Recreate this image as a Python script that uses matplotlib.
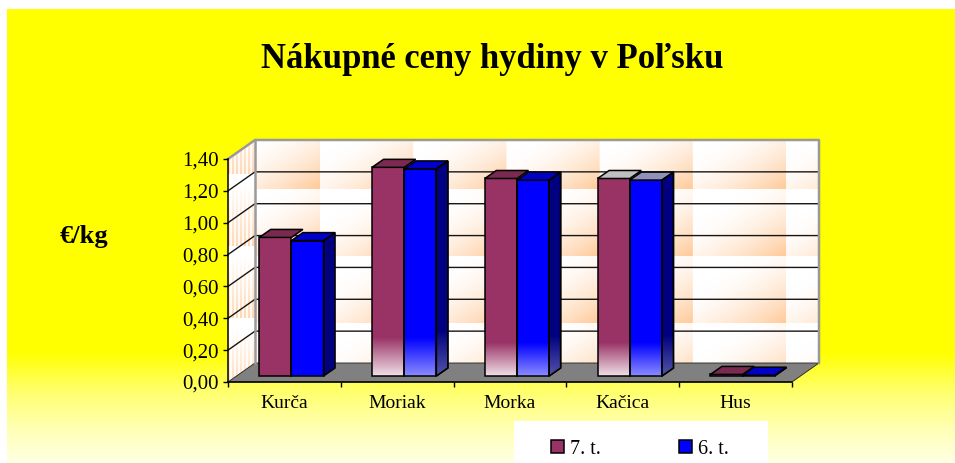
import numpy as np
import matplotlib
matplotlib.use("Agg")
import matplotlib.pyplot as plt
from matplotlib.patches import Polygon, Rectangle
from matplotlib.transforms import Affine2D, IdentityTransform

CATEGORIES = ["Kurča", "Moriak", "Morka", "Kačica", "Hus"]
SERIES_7T = [0.87, 1.31, 1.24, 1.24, 0.01]
SERIES_6T = [0.85, 1.30, 1.23, 1.23, 0.005]
Y_TICKS = [0.0, 0.2, 0.4, 0.6, 0.8, 1.0, 1.2, 1.4]
Y_LABELS = ["0,00", "0,20", "0,40", "0,60", "0,80", "1,00", "1,20", "1,40"]
FADE_TOP = [0.0, 0.24, 0.21, 0.21, 0.0]

W, H = 955, 463
DPI = 100
PURPLE = "#993366"
BLUE = "#0000ff"
PEACH = np.array([255, 200, 150]) / 255
WALL_DX, WALL_DY = 27, 19
BAR_DX, BAR_DY = 7, 6
DEPTH_DX, DEPTH_DY = 11.5, 8
BAR_W = 0.285
plt.rcParams["font.family"] = ["Liberation Serif", "DejaVu Serif"]

fig = plt.figure(figsize=(W / DPI, H / DPI), dpi=DPI, facecolor="white")

# background layer, in pixels
bg = fig.add_axes([0, 0, 1, 1])
bg.set_axis_off()

ys = np.arange(9, H)
alpha = np.interp(ys, [0, 352, 390, 430, 463], [0, 0, 0.42, 0.72, 0.9])
grad = np.ones((len(ys), 1, 3))
grad[:, 0, 2] = alpha
bg.imshow(grad, extent=(7, W, H, 9), aspect="auto", zorder=0)


def wall_texture():
    xx, yy = np.meshgrid(np.arange(255, 819), np.arange(140, 363))
    u = ((xx - 227) % 93) / 93
    v = ((yy - 122) % 67) / 67
    t = np.clip((0.7 * u + 0.8 * v - 0.4) / 1.1, 0, 1) ** 1.7
    return 1 - t[..., None] * (1 - PEACH)


def side_texture():
    xx, yy = np.meshgrid(np.arange(228, 255), np.arange(140, 382))
    v = ((yy - 102) % 72) / 72
    stripes = ((xx % 4) < 2) * 0.7 + 0.15
    t = np.clip(v - 0.15, 0, 1) * stripes
    return 1 - t[..., None] * (1 - PEACH)


bg.imshow(wall_texture(), extent=(255, 819, 363, 140), aspect="auto", zorder=1)
side_im = bg.imshow(side_texture(), extent=(228, 255, 382, 140), aspect="auto", zorder=1)
side_im.set_clip_path(Polygon([(228, 159), (255, 140), (255, 363), (228, 382)], transform=bg.transData))
bg.add_patch(Rectangle((514, 421), 254, 42, facecolor="white", edgecolor="none", zorder=1))
bg.set_xlim(0, W)
bg.set_ylim(H, 0)

# front plane of the chart
ax = fig.add_axes([228 / W, (H - 382) / H, 564 / W, 223 / H])
ax.patch.set_alpha(0)
ax.set_xlim(0, 5)
ax.set_ylim(0, 1.4)
for name in ["top", "right"]:
    ax.spines[name].set_visible(False)
for name in ["left", "bottom"]:
    ax.spines[name].set_linewidth(1.1)


def pt(x, v, dx=0, dy=0):
    px, py = ax.transData.transform((x, v))
    return (px + dx, py + dy)


def poly(points, **kw):
    p = Polygon(points, transform=IdentityTransform(), clip_on=False, **kw)
    ax.add_patch(p)
    return p


poly([pt(0, 0), pt(5, 0), pt(5, 0, WALL_DX, WALL_DY), pt(0, 0, WALL_DX, WALL_DY)],
     facecolor="#808080", edgecolor="#202020", linewidth=0.6, zorder=1)

# gridlines on both walls
for v in Y_TICKS[1:-1]:
    a, b, c = pt(0, v), pt(0, v, WALL_DX, WALL_DY), pt(5, v, WALL_DX, WALL_DY)
    ax.plot([a[0], b[0], c[0]], [a[1], b[1], c[1]], color="#151515", lw=1.0,
            transform=IdentityTransform(), clip_on=False, zorder=1)

# wall border
tl0, tl, tr, br = pt(0, 1.4), pt(0, 1.4, WALL_DX, WALL_DY), pt(5, 1.4, WALL_DX, WALL_DY), pt(5, 0, WALL_DX, WALL_DY)
bl = pt(0, 0, WALL_DX, WALL_DY)
ax.plot([tl0[0], tl[0], tr[0], br[0]], [tl0[1], tl[1], tr[1], br[1]], color="#9a9a9a", lw=1.8,
        transform=IdentityTransform(), clip_on=False, zorder=1)
ax.plot([tl[0], bl[0]], [tl[1], bl[1]], color="#9a9a9a", lw=1.8,
        transform=IdentityTransform(), clip_on=False, zorder=1)

bar_tr = Affine2D().translate(BAR_DX, BAR_DY)
trans = ax.transData + bar_tr
pos = np.arange(len(CATEGORIES)) + 0.5
TOP_COLORS = {PURPLE: "#7a2a50", BLUE: "#0000c8"}
GREY_TOPS = {PURPLE: "#c0c0c0", BLUE: "#9090b8"}


def fade(x0, x1, top, strength, clip=None, zorder=4):
    rows = np.linspace(0, 1, 64)[:, None]
    img = np.ones((64, 1, 4))
    img[..., 3] = (rows * strength)
    im = ax.imshow(img, extent=(x0, x1, 0, top), origin="upper", aspect="auto",
                   transform=trans, zorder=zorder, interpolation="bilinear")
    if clip is not None:
        im.set_clip_path(clip)
    else:
        im.set_clip_on(False)
    return im


def draw_series(values, offset, color, strength):
    x0s = pos + offset - BAR_W / 2
    x1s = pos + offset + BAR_W / 2
    ax.bar(pos + offset, values, BAR_W, color=color, transform=trans, clip_on=False, zorder=3)
    for i, val in enumerate(values):
        if FADE_TOP[i] > 0:
            fade(x0s[i], x1s[i], FADE_TOP[i], strength)
    ax.bar(pos + offset, values, BAR_W, fill=False, edgecolor="black", linewidth=1.1,
           transform=trans, clip_on=False, zorder=5)
    for i, val in enumerate(values):
        top_color = GREY_TOPS[color] if CATEGORIES[i] == "Kačica" else TOP_COLORS[color]
        d = (BAR_DX, BAR_DY)
        e = (BAR_DX + DEPTH_DX, BAR_DY + DEPTH_DY)
        poly([pt(x0s[i], val, *d), pt(x1s[i], val, *d), pt(x1s[i], val, *e), pt(x0s[i], val, *e)],
             facecolor=top_color, edgecolor="black", linewidth=1.1, zorder=5)
        if color == BLUE:
            side = [pt(x1s[i], 0, *d), pt(x1s[i], 0, *e), pt(x1s[i], val, *e), pt(x1s[i], val, *d)]
            poly(side, facecolor="#000080", edgecolor="black", linewidth=1.1, zorder=3)
            if FADE_TOP[i] > 0:
                clip = Polygon(side, transform=IdentityTransform())
                xa = x1s[i]
                xb = x1s[i] + (DEPTH_DX + 2) / (564 / 5)
                fade(xa, xb, FADE_TOP[i] + 0.05, strength * 0.6, clip=clip, zorder=4)
                poly(side, fill=False, edgecolor="black", linewidth=1.1, zorder=5)


draw_series(SERIES_7T, -BAR_W / 2, PURPLE, 0.85)
draw_series(SERIES_6T, BAR_W / 2, BLUE, 0.55)

ax.set_xlim(0, 5)
ax.set_ylim(0, 1.4)
ax.set_yticks(Y_TICKS)
ax.set_yticklabels(Y_LABELS, fontsize=15)
ax.set_xticks(range(6))
ax.set_xticklabels([])
ax.set_xticks(pos, minor=True)
ax.set_xticklabels(CATEGORIES, minor=True, fontsize=14)
ax.tick_params(axis="x", which="minor", length=0, pad=9)
ax.tick_params(axis="both", which="major", length=3.5, width=1.0, pad=3)

fig.text(492 / W, 1 - 60 / H, "Nákupné ceny hydiny v Poľsku", fontsize=24.9, fontweight="bold",
         ha="center", va="center")
fig.text(84 / W, 1 - 236 / H, "€/kg", fontsize=19, fontweight="bold", ha="center", va="center")

handles = [Rectangle((0, 0), 1, 1, facecolor=PURPLE, edgecolor="black", linewidth=1.1),
           Rectangle((0, 0), 1, 1, facecolor=BLUE, edgecolor="black", linewidth=1.1)]
fig.legend(handles, ["7. t.", "6. t."], ncol=2, frameon=False, fontsize=14.5,
           loc="center", bbox_to_anchor=(640 / W, 1 - 449 / H),
           handlelength=0.65, handleheight=0.65, handletextpad=0.3, columnspacing=3.9)

fig.savefig("out.png", dpi=DPI)
